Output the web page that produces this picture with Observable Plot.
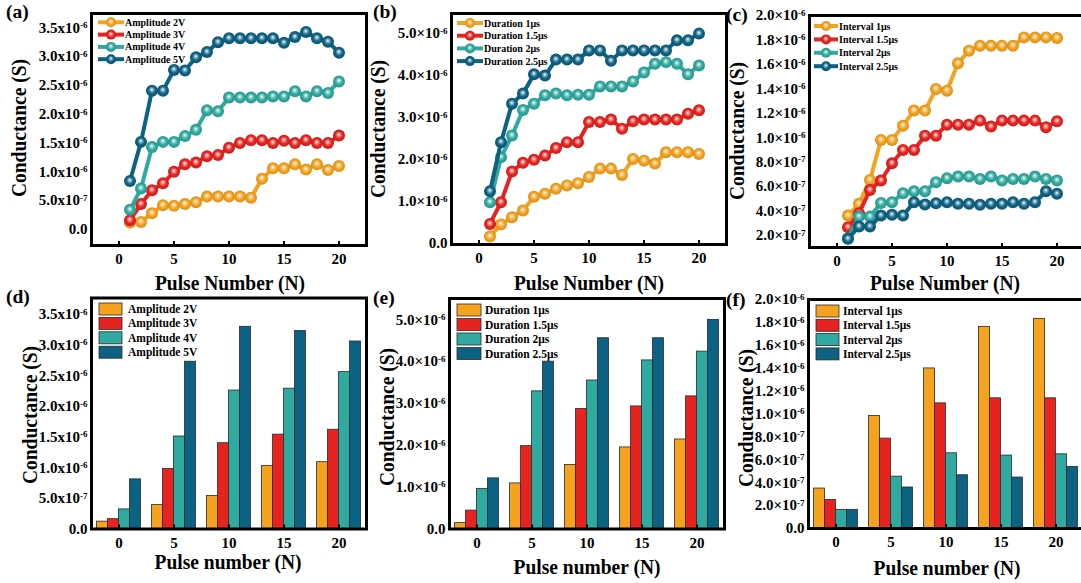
<!DOCTYPE html>
<html>
<head>
<meta charset="utf-8">
<script src="https://cdn.jsdelivr.net/npm/d3@7"></script>
<script src="https://cdn.jsdelivr.net/npm/@observablehq/plot@0.6"></script>
<style>
  html, body { margin: 0; padding: 0; background: #fff; overflow: hidden; }
  #fig { position: relative; width: 1081px; height: 583px; overflow: hidden;
         font-family: "Liberation Serif", "Times New Roman", serif; font-weight: bold; color: #000; }
  .pane { position: absolute; }
  .pane svg { max-width: none; display: block; }
  .lbl { position: absolute; white-space: nowrap; line-height: 1; font-size: 19.5px; }
  .ytitle { transform: translate(-50%, -50%) rotate(-90deg) scaleY(1.08); }
  .xtitle { transform: translate(-50%, -50%) scaleY(1.12); }
  .tag { transform: translate(0, -50%); }
</style>
</head>
<body>
<div id="fig"></div>
<script>
// Pulse index of the measured sequences
const pulses = [1,2,3,4,5,6,7,8,9,10,11,12,13,14,15,16,17,18,19,20];
// Pulse numbers sampled in the grouped bar panels
const barPulses = [0, 5, 10, 15, 20];
const xTicks = [0, 5, 10, 15, 20];

// Series colours (orange, red, teal, petrol blue)
const colors = ["#F5A21E", "#E7231F", "#2FAAA0", "#0C6283"];

// Legend names
const ampNames = ["Amplitude 2V", "Amplitude 3V", "Amplitude 4V", "Amplitude 5V"];
const durNames = ["Duration 1μs", "Duration 1.5μs", "Duration 2μs", "Duration 2.5μs"];
const intNames = ["Interval 1μs", "Interval 1.5μs", "Interval 2μs", "Interval 2.5μs"];

// Conductance values in μS (×10⁻⁶ S)
// (a) pulse amplitude
const amp2V = [0.12,0.13,0.28,0.42,0.41,0.44,0.47,0.57,0.57,0.57,0.57,0.55,0.88,1.06,1.06,1.13,1.04,1.13,1.03,1.10];
const amp3V = [0.16,0.44,0.68,0.80,1.00,1.13,1.16,1.27,1.29,1.42,1.50,1.55,1.55,1.50,1.54,1.50,1.55,1.50,1.50,1.63];
const amp4V = [0.34,0.71,1.43,1.52,1.52,1.62,1.73,2.07,2.05,2.29,2.29,2.29,2.29,2.31,2.31,2.40,2.31,2.40,2.37,2.57];
const amp5V = [0.84,1.52,2.41,2.41,2.77,2.76,2.99,3.08,3.25,3.32,3.32,3.32,3.32,3.32,3.24,3.34,3.43,3.32,3.26,3.07];
// (b) pulse duration
const dur1 = [0.16,0.45,0.62,0.78,1.11,1.18,1.30,1.38,1.43,1.58,1.78,1.78,1.63,2.01,1.97,1.90,2.17,2.17,2.17,2.13];
const dur15 = [0.46,0.98,1.71,1.92,1.99,2.09,2.27,2.41,2.41,2.89,2.89,2.95,2.73,2.91,2.95,2.95,2.95,2.95,3.09,3.17];
const dur2 = [0.98,2.05,2.57,3.18,3.33,3.53,3.57,3.53,3.54,3.54,3.74,3.74,3.74,3.86,4.07,4.28,4.32,4.28,4.03,4.24];
const dur25 = [1.24,2.41,3.33,3.57,4.03,4.00,4.38,4.38,4.38,4.60,4.60,4.35,4.60,4.60,4.60,4.60,4.60,4.84,4.84,5.00];
// (c) pulse interval
const int1 = [0.363,0.459,0.655,0.982,0.982,1.099,1.222,1.222,1.399,1.385,1.609,1.712,1.753,1.753,1.753,1.753,1.821,1.821,1.821,1.816];
const int15 = [0.268,0.383,0.573,0.650,0.791,0.900,0.900,1.017,1.017,1.107,1.107,1.107,1.140,1.091,1.140,1.140,1.140,1.140,1.086,1.135];
const int2 = [0.175,0.355,0.355,0.467,0.472,0.546,0.562,0.562,0.636,0.669,0.682,0.682,0.663,0.682,0.650,0.663,0.663,0.682,0.663,0.650];
const int25 = [0.173,0.274,0.274,0.363,0.369,0.363,0.472,0.453,0.464,0.472,0.459,0.459,0.451,0.459,0.459,0.472,0.459,0.472,0.562,0.541];

// (d) amplitude, sampled pulses
const barAmp2V = [0.12,0.39,0.54,1.03,1.09];
const barAmp3V = [0.16,0.98,1.40,1.54,1.62];
const barAmp4V = [0.32,1.51,2.26,2.29,2.56];
const barAmp5V = [0.81,2.73,3.30,3.23,3.06];
// (e) duration, sampled pulses
const barDur1 = [0.14,1.09,1.53,1.95,2.14];
const barDur15 = [0.44,1.98,2.87,2.93,3.17];
const barDur2 = [0.96,3.29,3.55,4.03,4.24];
const barDur25 = [1.21,4.00,4.56,4.56,5.00];
// (f) interval, sampled pulses
const barInt1 = [0.349,0.983,1.398,1.759,1.831];
const barInt15 = [0.250,0.785,1.093,1.137,1.137];
const barInt2 = [0.163,0.453,0.657,0.637,0.648];
const barInt25 = [0.163,0.358,0.465,0.445,0.538];

// y tick values (μS)
const ampTicks = [0, 0.5, 1, 1.5, 2, 2.5, 3, 3.5];
const durTicks = [0, 1, 2, 3, 4, 5];
const intTicks = [0.2, 0.4, 0.6, 0.8, 1.0, 1.2, 1.4, 1.6, 1.8, 2.0];
const intBarTicks = [0, 0.2, 0.4, 0.6, 0.8, 1.0, 1.2, 1.4, 1.6, 1.8, 2.0];

const fig = d3.select("#fig");
const SVGNS = "http://www.w3.org/2000/svg";
const serif = '"Liberation Serif", "Times New Roman", serif';
const tickFont = { fontSize: 15, fontWeight: "bold", fontFamily: serif };

// Shaded "ball" fills for the line symbols
const defs = fig.append("svg").attr("width", 0).attr("height", 0)
  .style("position", "absolute").append("defs");
colors.forEach((c, k) => {
  const g = defs.append("radialGradient").attr("id", `ball${k}`)
    .attr("cx", "50%").attr("cy", "50%").attr("r", "50%").attr("fx", "48%").attr("fy", "40%");
  g.append("stop").attr("offset", "0").attr("stop-color", "#ffffff");
  g.append("stop").attr("offset", "0.28").attr("stop-color", d3.interpolateRgb(c, "#fff")(0.45));
  g.append("stop").attr("offset", "0.6").attr("stop-color", c);
  g.append("stop").attr("offset", "1").attr("stop-color", d3.color(c).darker(0.35).formatHex());
});

// Scientific tick labels, e.g. 3.5x10^-6 (exponent raised afterwards)
function sci(v, sep) {
  if (Math.abs(v) < 1e-9) return "0.0";
  const s = v * 1e-6;
  const e = Math.floor(Math.log10(s) + 1e-9);
  const m = s / Math.pow(10, e);
  return `${m.toFixed(1)}${sep}10^${e}`;
}
function raiseExponents(svg) {
  svg.querySelectorAll('g[aria-label="y-axis tick label"] text').forEach(t => {
    const s = t.textContent;
    const i = s.indexOf("^");
    if (i < 0) return;
    t.textContent = s.slice(0, i);
    const ts = document.createElementNS(SVGNS, "tspan");
    ts.setAttribute("dy", "-0.5em");
    ts.setAttribute("font-size", "0.6em");
    ts.textContent = s.slice(i + 1);
    t.appendChild(ts);
  });
}

function chart(p, marks) {
  const svg = Plot.plot({
    width: p.w, height: p.h,
    marginLeft: p.ml, marginRight: p.mr, marginTop: p.mt, marginBottom: p.mb,
    style: { fontFamily: serif, fontWeight: "bold", fontSize: "15px", color: "#000",
             background: "transparent", overflow: "visible", maxWidth: "none" },
    x: { domain: [-2.5, 22.5] },
    y: { domain: p.yDomain },
    marks: [
      ...marks,
      Plot.axisX({ ticks: xTicks, tickSize: 0, tickPadding: 8, label: null, ...tickFont }),
      Plot.axisX({ ticks: xTicks, tickSize: -4, tickFormat: () => "", strokeWidth: 2, label: null }),
      Plot.axisY({ ticks: p.yTicks, tickSize: 0, tickPadding: 4, tickFormat: v => sci(v, p.sep),
                   label: null, ...tickFont }),
      Plot.frame({ stroke: "#000", strokeWidth: 3 })
    ]
  });
  raiseExponents(svg);
  fig.append("div").attr("class", "pane")
    .style("left", p.left + "px").style("top", p.top + "px")
    .node().appendChild(svg);
}

function lineMarks(series) {
  const marks = [];
  series.forEach((vals, k) => {
    const d = vals.map((g, i) => ({ n: pulses[i], g }));
    marks.push(Plot.line(d, { x: "n", y: "g", stroke: colors[k], strokeWidth: 4 }));
    marks.push(Plot.dot(d, { x: "n", y: "g", r: 6, fill: `url(#ball${k})` }));
  });
  return marks;
}

function barMarks(series) {
  // four adjacent bars per pulse group, one pulse unit wide each
  return series.map((vals, k) => {
    const d = vals.map((g, i) => ({ n: barPulses[i], g }));
    return Plot.rect(d, {
      x1: r => r.n + k - 2, x2: r => r.n + k - 1,
      y1: 0, y2: "g",
      fill: colors[k], stroke: "#2a2a2a", strokeWidth: 0.8
    });
  });
}

// Panels
chart({ left: 0, top: 0, w: 370, h: 290, ml: 91, mr: 4, mt: 13, mb: 45,
        yDomain: [-0.28, 3.75], yTicks: ampTicks, sep: "x" },
      lineMarks([amp2V, amp3V, amp4V, amp5V]));
chart({ left: 360, top: 0, w: 370, h: 290, ml: 91, mr: 4, mt: 13, mb: 46,
        yDomain: [-0.03, 5.48], yTicks: durTicks, sep: "×" },
      lineMarks([dur1, dur15, dur2, dur25]));
chart({ left: 720, top: 0, w: 370, h: 290, ml: 89, mr: 6, mt: 15, mb: 43,
        yDomain: [0.102, 2.0], yTicks: intTicks, sep: "×" },
      lineMarks([int1, int15, int2, int25]));
chart({ left: 0, top: 290, w: 370, h: 293, ml: 91, mr: 4, mt: 7.5, mb: 54.5,
        yDomain: [0, 3.77], yTicks: ampTicks, sep: "x" },
      barMarks([barAmp2V, barAmp3V, barAmp4V, barAmp5V]));
chart({ left: 360, top: 290, w: 370, h: 293, ml: 89, mr: 6, mt: 8, mb: 54.5,
        yDomain: [0, 5.51], yTicks: durTicks, sep: "×" },
      barMarks([barDur1, barDur15, barDur2, barDur25]));
chart({ left: 720, top: 290, w: 370, h: 293, ml: 88, mr: 7, mt: 9, mb: 55,
        yDomain: [0, 2.0], yTicks: intBarTicks, sep: "×" },
      barMarks([barInt1, barInt15, barInt2, barInt25]));

// Legends
const leg = fig.append("svg").attr("width", 1081).attr("height", 583)
  .style("position", "absolute").style("left", 0).style("top", 0)
  .style("pointer-events", "none")
  .attr("font-family", serif).attr("font-weight", "bold");

function lineLegend(names, x0, x1, tx, ys, size) {
  names.forEach((name, k) => {
    const y = ys[k];
    leg.append("line").attr("x1", x0).attr("x2", x1).attr("y1", y).attr("y2", y)
      .attr("stroke", colors[k]).attr("stroke-width", 4);
    leg.append("circle").attr("cx", (x0 + x1) / 2).attr("cy", y).attr("r", 5)
      .attr("fill", `url(#ball${k})`);
    leg.append("text").attr("x", tx).attr("y", y).attr("dy", "0.35em")
      .attr("font-size", size).text(name);
  });
}
function barLegend(names, x0, w, tx, ys, size) {
  names.forEach((name, k) => {
    const y = ys[k];
    leg.append("rect").attr("x", x0).attr("y", y - 6).attr("width", w).attr("height", 12)
      .attr("fill", colors[k]).attr("stroke", "#2a2a2a").attr("stroke-width", 0.8);
    leg.append("text").attr("x", tx).attr("y", y).attr("dy", "0.35em")
      .attr("font-size", size).text(name);
  });
}
lineLegend(ampNames, 98, 124, 125, [22.3, 34.6, 46.9, 59.2], 10);
lineLegend(durNames, 457, 483, 484, [23, 35.7, 48.4, 61.1], 10);
lineLegend(intNames, 814, 838, 839, [26, 39.4, 52.8, 66.2], 10);
barLegend(ampNames, 99, 23, 128, [309, 323.4, 337.8, 352.2], 11.5);
barLegend(durNames, 457, 24, 485, [310, 324.5, 339, 353.5], 11.5);
barLegend(intNames, 816, 23, 843, [311, 325.3, 339.6, 353.9], 11.5);

// Axis titles and panel tags
function label(text, x, y, cls) {
  fig.append("div").attr("class", "lbl " + cls)
    .style("left", x + "px").style("top", y + "px").text(text);
}
label("Conductance (S)", 19, 128, "ytitle");
label("Conductance (S)", 378, 129, "ytitle");
label("Conductance (S)", 737, 131, "ytitle");
label("Conductance (S)", 30, 415, "ytitle");
label("Conductance (S)", 387, 417, "ytitle");
label("Conductance (S)", 746, 418, "ytitle");
label("Pulse Number (N)", 230, 283, "xtitle");
label("Pulse Number (N)", 589, 283, "xtitle");
label("Pulse Number (N)", 945, 283, "xtitle");
label("Pulse number (N)", 228, 562, "xtitle");
label("Pulse number (N)", 587, 567, "xtitle");
label("Pulse number (N)", 947, 568, "xtitle");
label("(a)", 6, 12, "tag");
label("(b)", 373, 12, "tag");
label("(c)", 726, 15, "tag");
label("(d)", 6, 297, "tag");
label("(e)", 373, 298, "tag");
label("(f)", 726, 300, "tag");
</script>
</body>
</html>
